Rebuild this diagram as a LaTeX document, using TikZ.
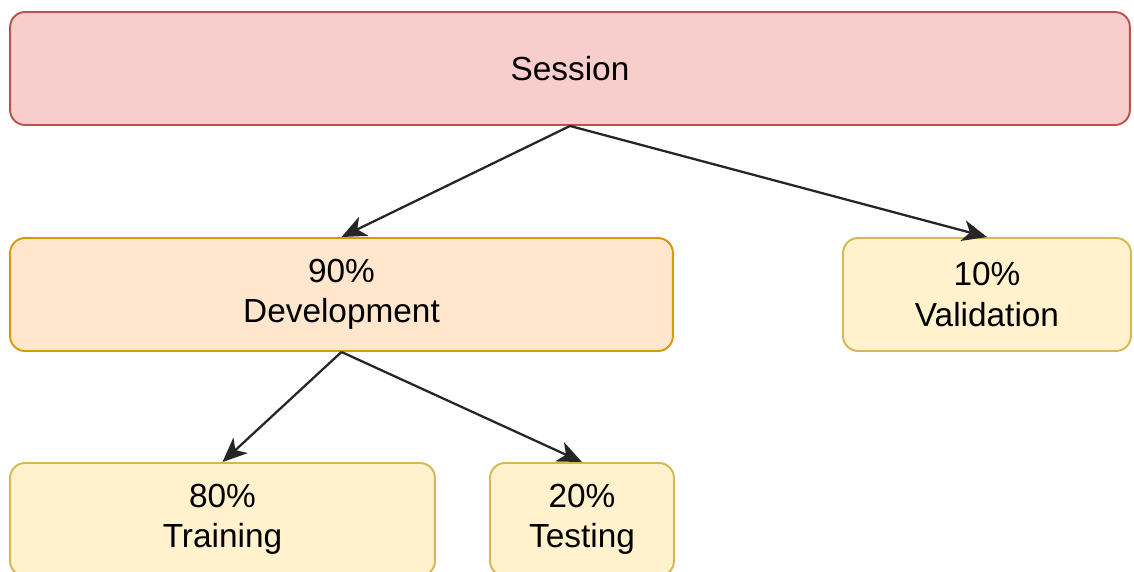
\documentclass[tikz,border=0pt]{standalone}
\usepackage{fontspec}
\setmainfont{Liberation Sans}
\usetikzlibrary{arrows.meta,positioning}
\definecolor{sessfill}{HTML}{F8CECC}
\definecolor{sessdraw}{HTML}{B85450}
\definecolor{devfill}{HTML}{FFE6CC}
\definecolor{devdraw}{HTML}{D79B00}
\definecolor{leaffill}{HTML}{FFF2CC}
\definecolor{leafdraw}{HTML}{D6B656}

\begin{document}
\begin{tikzpicture}[x=0.02cm,y=-0.02cm,
  split/.style={rectangle,rounded corners=0.3cm,line width=1.1pt,minimum height=2.26cm,
                align=center,inner sep=0pt,font=\fontsize{19}{23}\selectfont},
  sess/.style={split,draw=sessdraw,fill=sessfill},
  dev/.style={split,draw=devdraw,fill=devfill},
  leaf/.style={split,draw=leafdraw,fill=leaffill},
  arr/.style={-{Stealth[length=14pt,width=12pt,inset=4pt]},line width=1.3pt,draw=black!85}
]
  \clip (0,0) rectangle (1134,572);

  % Split levels
  \node[sess,minimum width=22.4cm]  (session) at (570,68.5)   {Session};
  \node[dev,minimum width=13.26cm]  (devel)   at (341.5,294.5) {90\%\\Development};
  \node[leaf,minimum width=5.76cm]  (valid)   at (987,294.5)   {10\%\\Validation};
  \node[leaf,minimum width=8.5cm]   (train)   at (222.5,519.5) {80\%\\Training};
  \node[leaf,minimum width=3.68cm]  (test)    at (582,519.5)   {20\%\\Testing};

  % Connectors
  \draw[arr] (session.south) -- (devel.north);
  \draw[arr] (session.south) -- (valid.north);
  \draw[arr] (devel.south) -- (train.north);
  \draw[arr] (devel.south) -- (test.north);
\end{tikzpicture}
\end{document}
